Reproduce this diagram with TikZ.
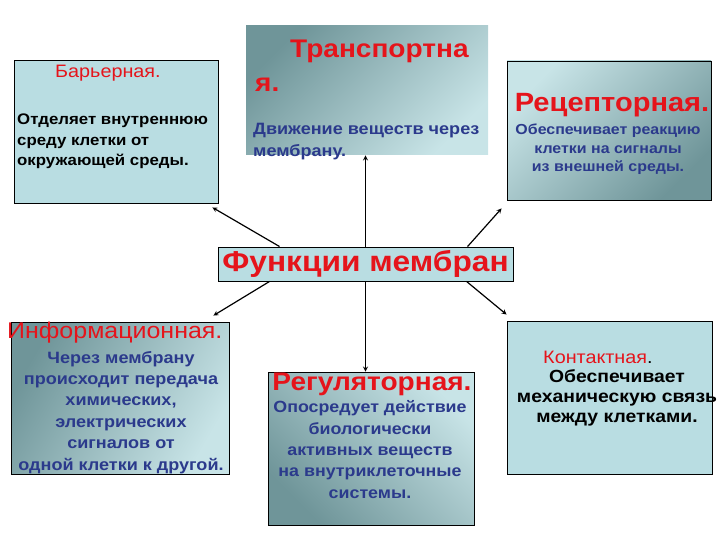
\documentclass[tikz,border=0pt]{standalone}
\usepackage{fontspec}
\setmainfont[FakeStretch=1.1]{Liberation Sans}
\usetikzlibrary{shapes,arrows,calc,positioning}
\tikzstyle{arrow} = [line width=1.2pt, ->, >=stealth, shorten >=0pt]
\definecolor{memflat}{HTML}{B9DDE2}
\definecolor{memdark}{HTML}{6F9599}
\definecolor{memlight}{HTML}{C8E4E7}
\definecolor{memred}{HTML}{E5141B}
\definecolor{memblue}{HTML}{2B3A8C}
\newcommand{\fs}[2]{\fontsize{#1}{#2}\selectfont}

\begin{document}
\begin{tikzpicture}[x=1pt,y=-1pt]
\tikzset{box/.style={draw=black,line width=0.9pt,inner sep=0pt},
flat/.style={box,fill=memflat},
grad/.style={box,top color=memdark,bottom color=memlight,shading angle=#1},
ttl/.style={text=memred,inner sep=0pt},
txt/.style={text=memblue,inner sep=0pt,font=\bfseries}}
\useasboundingbox (0,0) rectangle (720,540);

% boxes
\node[flat,minimum width=204,minimum height=143] (bar) at (116,131.5){};
\node[grad=45,draw=none,minimum width=242,minimum height=129] (tra) at (367,90.5){};
\node[box,top color=memlight,bottom color=memdark,shading angle=45,minimum width=204,minimum height=139] (rec) at (609,130.5){};
\node[flat,minimum width=295,minimum height=34,text=memred,font=\fs{28.8}{30}\bfseries] (fun) at (365.5,264){\raisebox{-2pt}{Функции мембран}};
\node[grad=60,minimum width=218,minimum height=152] (inf) at (120,398){};
\node[grad=135,minimum width=206,minimum height=153] (reg) at (371,448.5){};
\node[flat,minimum width=205,minimum height=153] (kon) at (609.5,397.5){};

% texts (base = last line)
\node[ttl,anchor=base west,font=\fs{18}{20}] (bar-t) at (55,78){Барьерная.};
\node[inner sep=0pt,anchor=base west,align=left,font=\fs{15.3}{20.5}\bfseries] (bar-b) at (17,166)
  {Отделяет внутреннюю\\среду клетки от\\окружающей среды.};
\node[ttl,anchor=base west,align=left,font=\fs{25.5}{34}\bfseries] (tra-t) at (255,92)
  {\hspace*{35pt}Транспортна\\я.};
\node[txt,anchor=base west,align=left,font=\fs{16.4}{22}\bfseries] (tra-b) at (253,157)
  {Движение веществ через\\мембрану.};
\node[ttl,anchor=base,font=\fs{26.4}{28}\bfseries] (rec-t) at (612,112){Рецепторная.};
\node[txt,anchor=base,align=center,font=\fs{14.5}{18.5}\bfseries] (rec-b) at (608,172)
  {Обеспечивает реакцию\\клетки на сигналы\\из внешней среды.};
\node[ttl,anchor=base west,font=\fs{22.7}{24}] (inf-t) at (7,338){Информационная.};
\node[txt,anchor=base,align=center,font=\fs{16.4}{21.4}\bfseries] (inf-b) at (121,470)
  {Через мембрану\\происходит передача\\химических,\\электрических\\сигналов от\\одной клетки к другой.};
\node[ttl,anchor=base,font=\fs{25.5}{26}\bfseries] (reg-t) at (372,390){Регуляторная.};
\node[txt,anchor=base,align=center,font=\fs{16.2}{21.3}\bfseries] (reg-b) at (370,498)
  {Опосредует действие\\биологически\\активных веществ\\на внутриклеточные\\системы.};
\node[ttl,anchor=base west,font=\fs{18}{20}] (kon-t) at (543,363){Контактная\textcolor{black}{.}};
\node[inner sep=0pt,anchor=base,align=center,font=\fs{17.6}{20}\bfseries] (kon-b) at (617,422)
  {Обеспечивает\\механическую связь\\между клетками.};

% arrows
\draw[arrow] ($(fun.north west)+(62,0)$) -- ($(bar.south east)+(-6,4)$);
\draw[arrow] ($(fun.north west)+(250,0)$) -- ($(rec.south west)+(-5,8)$);
\draw[arrow] ($(fun.south west)+(52,0)$) -- ($(inf.north east)+(-16,-6)$);
\draw[arrow] ($(fun.south west)+(249,0)$) -- ($(kon.north west)+(0,-6)$);
\draw[arrow] (fun.north) -- (fun.north |- tra.south);
\draw[arrow] (fun.south) -- (fun.south |- reg.north);
\end{tikzpicture}
\end{document}
